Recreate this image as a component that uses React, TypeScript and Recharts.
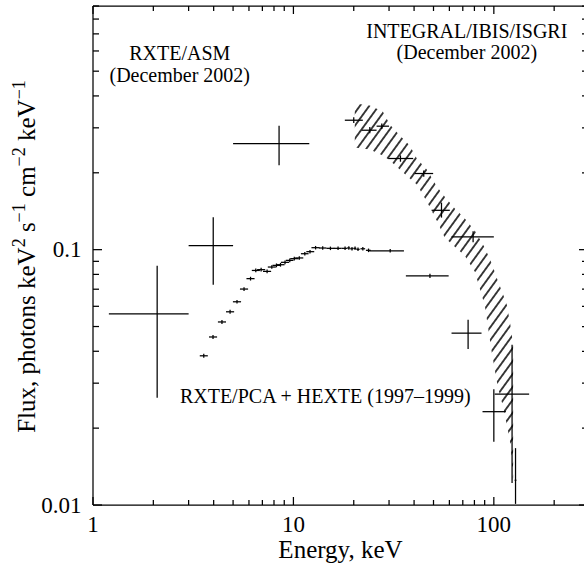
import React from 'react';
import { ComposedChart, Area, Scatter, ErrorBar, XAxis, YAxis, ReferenceDot, Label } from 'recharts';

const FONT = '"Liberation Serif", "Times New Roman", Times, serif';
const INK = '#000';

// Axis ranges and ticks
const xDomain = [1, 295];
const yDomain = [0.01, 0.9];
const xTicks = [1, 2, 3, 4, 5, 6, 7, 8, 9, 10, 20, 30, 40, 50, 60, 70, 80, 90, 100, 200];
const xLabels = [1, 10, 100];
const yTicks = [0.01, 0.02, 0.03, 0.04, 0.05, 0.06, 0.07, 0.08, 0.09, 0.1, 0.2, 0.3, 0.4, 0.5, 0.6, 0.7, 0.8, 0.9];
const yLabels = [0.01, 0.1];

// RXTE/ASM, December 2002 (three energy bands)
const asmEnergy = [2.09, 3.98, 8.48];
const asmELow = [1.2, 3.0, 5.0];
const asmEHigh = [3.0, 5.0, 12.0];
const asmFlux = [0.0561, 0.1037, 0.26];
const asmFLow = [0.0263, 0.0729, 0.214];
const asmFHigh = [0.0865, 0.134, 0.306];

// RXTE/PCA spectrum, 1997-1999
const pcaEnergy = [3.57, 3.97, 4.4, 4.83, 5.23, 5.67, 6.11, 6.49, 6.9, 7.39, 7.8, 8.23, 8.62, 9.08, 9.59, 10.1, 10.7, 11.4, 12.1, 12.9, 14.0, 15.3, 16.7, 18.1, 18.9, 19.6, 20.3, 21.0, 22.2, 23.7];
const pcaELow = [3.41, 3.79, 4.2, 4.61, 4.99, 5.41, 5.83, 6.2, 6.59, 7.05, 7.45, 7.86, 8.23, 8.67, 9.16, 9.64, 10.2, 10.9, 11.6, 12.3, 13.4, 14.6, 15.9, 17.4, 18.5, 19.2, 19.9, 20.6, 21.6, 23.0];
const pcaEHigh = [3.74, 4.16, 4.61, 5.06, 5.48, 5.94, 6.4, 6.8, 7.23, 7.74, 8.17, 8.62, 9.03, 9.51, 10.0, 10.6, 11.2, 11.9, 12.7, 13.5, 14.6, 16.0, 17.4, 18.5, 19.2, 19.9, 20.6, 21.4, 22.8, 24.3];
const pcaFlux = [0.0384, 0.0455, 0.0521, 0.0571, 0.0625, 0.0701, 0.077, 0.0829, 0.0835, 0.0822, 0.0855, 0.0868, 0.0873, 0.0892, 0.0908, 0.0922, 0.0928, 0.0964, 0.0982, 0.1018, 0.1015, 0.1012, 0.1012, 0.1012, 0.1015, 0.1008, 0.1012, 0.1003, 0.1008, 0.0994];
const pcaFErr = [0.0007, 0.0008, 0.0009, 0.001, 0.001, 0.0012, 0.0013, 0.0014, 0.0014, 0.0014, 0.0014, 0.0015, 0.0015, 0.0015, 0.0015, 0.0015, 0.0015, 0.0016, 0.0016, 0.0016, 0.0016, 0.0016, 0.0016, 0.0016, 0.0016, 0.0016, 0.0016, 0.0016, 0.0016, 0.0016];

// RXTE/HEXTE, 1997-1999
const hexteEnergy = [30.4, 48.0, 74.4, 100, 128.3];
const hexteELow = [23.9, 36.4, 61.5, 87.8, 127.0];
const hexteEHigh = [35.6, 59.5, 86.8, 114.8, 129.6];
const hexteFlux = [0.099, 0.079, 0.0471, 0.0232, 0.0125];
const hexteFLow = [0.0975, 0.0775, 0.0408, 0.0177, 0.0101];
const hexteFHigh = [0.1005, 0.0805, 0.0531, 0.0284, 0.0167];

// INTEGRAL/IBIS/ISGRI, December 2002
const isgriEnergy = [20.0, 24.05, 27.6, 34.2, 44.7, 54.8, 78.8, 123.3];
const isgriELow = [18.05, 21.9, 26.0, 29.7, 40.3, 48.9, 61.5, 101];
const isgriEHigh = [22.2, 26.0, 30.0, 39.6, 49.8, 60.3, 100, 150];
const isgriFlux = [0.3213, 0.2936, 0.3045, 0.2275, 0.1987, 0.1426, 0.1121, 0.0272];
const isgriFLow = [0.313, 0.286, 0.297, 0.221, 0.193, 0.1335, 0.107, 0.0122];
const isgriFHigh = [0.330, 0.302, 0.312, 0.234, 0.204, 0.1528, 0.118, 0.0424];

// Model uncertainty band for the ISGRI spectrum (hatched)
const bandEnergy = [20.24, 24.05, 27.93, 30.27, 33.95, 38.07, 41.27, 46.3, 51.94, 56.93, 63.88, 71.66, 80.39, 90.19, 97.7, 104.7, 110.9, 116.1, 121.6, 124.8];
const bandHigh = [0.3737, 0.367, 0.3477, 0.3092, 0.2799, 0.2557, 0.2275, 0.206, 0.1766, 0.1613, 0.1448, 0.1323, 0.1187, 0.1018, 0.0881, 0.0756, 0.0672, 0.0609, 0.0494, 0.0424];
const bandLow = [0.2512, 0.2467, 0.2336, 0.2234, 0.206, 0.1898, 0.1799, 0.1543, 0.1299, 0.1114, 0.1027, 0.0947, 0.082, 0.0603, 0.0395, 0.029, 0.0244, 0.0206, 0.017, 0.0122];

// Text annotations placed in data coordinates
const notes = [
  { e: 2.71, f: 0.5535, text: 'RXTE/ASM' },
  { e: 2.71, f: 0.4518, text: '(December 2002)' },
  { e: 73.3, f: 0.675, text: 'INTEGRAL/IBIS/ISGRI' },
  { e: 73.3, f: 0.5585, text: '(December 2002)' },
  { e: 14.42, f: 0.0251, text: 'RXTE/PCA + HEXTE (1997\u20131999)' },
];

type Row = { e: number; f: number; ex: [number, number]; ey: [number, number] };

const toRows = (e: number[], eLo: number[], eHi: number[], f: number[], fLo: number[], fHi: number[]): Row[] =>
  e.map((v, i) => ({ e: v, f: f[i], ex: [v - eLo[i], eHi[i] - v], ey: [f[i] - fLo[i], fHi[i] - f[i]] }));

const asmRows = toRows(asmEnergy, asmELow, asmEHigh, asmFlux, asmFLow, asmFHigh);
const pcaRows = toRows(
  pcaEnergy, pcaELow, pcaEHigh, pcaFlux,
  pcaFlux.map((v, i) => v - pcaFErr[i]),
  pcaFlux.map((v, i) => v + pcaFErr[i]),
);
const hexteRows = toRows(hexteEnergy, hexteELow, hexteEHigh, hexteFlux, hexteFLow, hexteFHigh);
const isgriRows = toRows(isgriEnergy, isgriELow, isgriEHigh, isgriFlux, isgriFLow, isgriFHigh);
const bandRows = bandEnergy.map((e, i) => ({ e, lo: bandLow[i], hi: bandHigh[i] }));

const LW = 1.25;

function BottomTick(props: any) {
  const { x, y, payload } = props;
  const major = xLabels.includes(payload.value);
  return (
    <g>
      <line x1={x} x2={x} y1={y} y2={y - (major ? 8 : 5)} stroke={INK} strokeWidth={LW} />
      {major && (
        <text x={x} y={y + 26.7} textAnchor="middle" fontSize={23} fontFamily={FONT} fill={INK}>
          {String(payload.value)}
        </text>
      )}
    </g>
  );
}

function TopTick(props: any) {
  const { x, y, payload } = props;
  const major = xLabels.includes(payload.value);
  return <line x1={x} x2={x} y1={y} y2={y + (major ? 8 : 5)} stroke={INK} strokeWidth={LW} />;
}

function LeftTick(props: any) {
  const { x, y, payload } = props;
  const major = yLabels.includes(payload.value);
  return (
    <g>
      <line x1={x} x2={x + (major ? 9 : 6)} y1={y} y2={y} stroke={INK} strokeWidth={LW} />
      {major && (
        <text x={x - 11.5} y={y + 7.5} textAnchor="end" fontSize={23} fontFamily={FONT} fill={INK}>
          {String(payload.value)}
        </text>
      )}
    </g>
  );
}

function RightTick(props: any) {
  const { x, y, payload } = props;
  const major = yLabels.includes(payload.value);
  return <line x1={x} x2={x - (major ? 9 : 6)} y1={y} y2={y} stroke={INK} strokeWidth={LW} />;
}

function XTitle(props: any) {
  const vb = props.viewBox || {};
  return (
    <text x={vb.x + vb.width / 2} y={vb.y + 53} textAnchor="middle" fontSize={25} fontFamily={FONT} fill={INK}>
      Energy, keV
    </text>
  );
}

function YTitle(props: any) {
  const vb = props.viewBox || {};
  const cx = vb.x - 57;
  const cy = vb.y + vb.height / 2 + 1;
  const sup = { fontSize: 18 };
  return (
    <text x={cx} y={cy} transform={`rotate(-90 ${cx} ${cy})`} textAnchor="middle" fontSize={25} fontFamily={FONT} fill={INK}>
      <tspan>Flux, photons keV</tspan>
      <tspan dy={-10} {...sup}>2</tspan>
      <tspan dy={10}> s</tspan>
      <tspan dy={-10} {...sup}>{'\u22121'}</tspan>
      <tspan dy={10}> cm</tspan>
      <tspan dy={-10} {...sup}>{'\u22122'}</tspan>
      <tspan dy={10}> keV</tspan>
      <tspan dy={-10} {...sup}>{'\u22121'}</tspan>
    </text>
  );
}

const noShape = () => <g />;

export default function App() {
  const errX = (
    <ErrorBar dataKey="ex" direction="x" width={0} stroke={INK} strokeWidth={LW} isAnimationActive={false} />
  );
  const errY = (
    <ErrorBar dataKey="ey" direction="y" width={0} stroke={INK} strokeWidth={LW} isAnimationActive={false} />
  );
  return (
    <div style={{ position: 'fixed', left: 0, top: 0, width: 584, height: 568, overflow: 'hidden', background: '#fff' }}>
      <ComposedChart width={600} height={568} data={bandRows} margin={{ top: 5, right: 11, bottom: 62, left: 92 }}>
        <defs>
          <pattern id="hatch" patternUnits="userSpaceOnUse" width={7.6} height={12} patternTransform="rotate(36)">
            <line x1={3.8} y1={0} x2={3.8} y2={12} stroke={INK} strokeWidth={1.5} />
          </pattern>
        </defs>
        <XAxis
          xAxisId="b" orientation="bottom" dataKey="e" type="number" scale="log" domain={xDomain}
          allowDataOverflow ticks={xTicks} interval={0} tickSize={0} tickMargin={0} height={1}
          tickLine={false} axisLine={{ stroke: INK, strokeWidth: LW }} tick={(p: any) => <BottomTick {...p} />}
        >
          <Label content={(p: any) => <XTitle {...p} />} />
        </XAxis>
        <XAxis
          xAxisId="t" orientation="top" dataKey="e" type="number" scale="log" domain={xDomain}
          allowDataOverflow ticks={xTicks} interval={0} tickSize={0} tickMargin={0} height={1}
          tickLine={false} axisLine={{ stroke: INK, strokeWidth: LW }} tick={(p: any) => <TopTick {...p} />}
        />
        <YAxis
          yAxisId="l" orientation="left" dataKey="f" type="number" scale="log" domain={yDomain}
          allowDataOverflow ticks={yTicks} interval={0} tickSize={0} tickMargin={0} width={1}
          tickLine={false} axisLine={{ stroke: INK, strokeWidth: LW }} tick={(p: any) => <LeftTick {...p} />}
        >
          <Label content={(p: any) => <YTitle {...p} />} />
        </YAxis>
        <YAxis
          yAxisId="r" orientation="right" dataKey="f" type="number" scale="log" domain={yDomain}
          allowDataOverflow ticks={yTicks} interval={0} tickSize={0} tickMargin={0} width={1}
          tickLine={false} axisLine={{ stroke: INK, strokeWidth: LW }} tick={(p: any) => <RightTick {...p} />}
        />

        <Area
          xAxisId="b" yAxisId="l" type="linear" dataKey={(d: any) => [d.lo, d.hi]}
          stroke="none" fill="url(#hatch)" fillOpacity={1} dot={false} activeDot={false} isAnimationActive={false}
        />

        <Scatter xAxisId="b" yAxisId="l" data={asmRows} shape={noShape} isAnimationActive={false}>
          {errX}
          {errY}
        </Scatter>
        <Scatter xAxisId="b" yAxisId="l" data={pcaRows} shape={noShape} isAnimationActive={false}>
          {errX}
          {errY}
        </Scatter>
        <Scatter xAxisId="b" yAxisId="l" data={hexteRows} shape={noShape} isAnimationActive={false}>
          {errX}
          {errY}
        </Scatter>
        <Scatter xAxisId="b" yAxisId="l" data={isgriRows} shape={noShape} isAnimationActive={false}>
          {errX}
          {errY}
        </Scatter>

        {notes.map((n, i) => (
          <ReferenceDot
            key={i} xAxisId="b" yAxisId="l" x={n.e} y={n.f} r={0}
            shape={(p: any) => (
              <text x={p.cx} y={p.cy} textAnchor="middle" fontSize={20} fontFamily={FONT} fill={INK}>
                {n.text}
              </text>
            )}
          />
        ))}
      </ComposedChart>
    </div>
  );
}
